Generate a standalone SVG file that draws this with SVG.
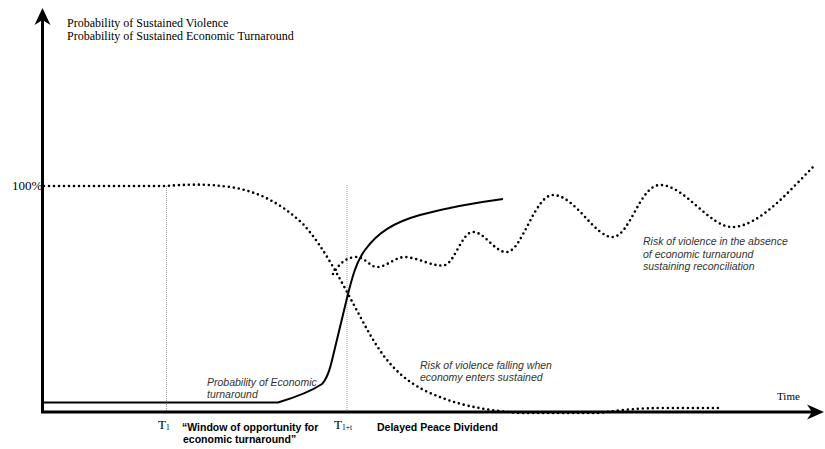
<svg xmlns="http://www.w3.org/2000/svg" width="825" height="449" viewBox="0 0 825 449">
  <style>
    .serif { font-family: "Liberation Serif", "Times New Roman", serif; fill: #000; }
    .lbl { font-family: "Liberation Sans", Arial, sans-serif; font-style: italic; font-size: 10.5px; fill: #333; }
    .bold { font-family: "Liberation Sans", Arial, sans-serif; font-weight: bold; font-size: 10.5px; fill: #000; }
    .dots { fill: none; stroke: #000; stroke-width: 2.6; stroke-linecap: round; stroke-dasharray: 0 5; }
    .solid { fill: none; stroke: #000; stroke-width: 2; stroke-linejoin: round; }
    .guide { fill: none; stroke: #999; stroke-width: 1; stroke-dasharray: 1 1; }
    .axis { fill: none; stroke: #000; stroke-width: 3; }
  </style>
  <rect width="825" height="449" fill="#fff"/>

  <g id="guides">
    <line class="guide" x1="166.5" y1="186" x2="166.5" y2="411"/>
    <line class="guide" x1="347" y1="185" x2="347" y2="411"/>
  </g>

  <g id="curves">
    <path id="violence-falling" class="dots" d="M44,186 L166,186 C185,184.5 205,183.5 230,187 C258,191 282,204 303,224 C325,248 343,285 362,320 C378,350 394,377 430,393 C455,404 480,410 520,413 L600,413 C620,410 640,408 665,408 L722,408"/>
    <path id="violence-absence" class="dots" d="M333,274 C338,266 344,258 355,257 C365,256 370,268 378,267 C388,266 395,257 405,257 C420,258 435,268 445,265 C455,262 462,232 473,232 C485,232 495,253 507,252 C522,251 535,195 553,195 C575,195 595,238 613,237 C630,236 640,185 660,185 C685,185 710,228 733,227 C760,226 790,190 815,165"/>
    <path id="economic" class="solid" d="M42,402.5 L278,402.5 C293,398 310,392 322,384 C328,378 331,365 334,352 L347,298 C352,278 356,262 365,250 C378,232 395,222 420,215 C450,207 480,202 503,199"/>
  </g>

  <g id="axes">
    <line class="axis" x1="42.5" y1="413" x2="42.5" y2="18"/>
    <line class="axis" x1="41" y1="412" x2="814" y2="412"/>
    <path d="M42.5,8 L50.5,25 L42.5,20 L34.5,25 Z" fill="#000"/>
    <path d="M824,412 L807,404.5 L812,412 L807,419.5 Z" fill="#000"/>
  </g>

  <g id="labels">
    <text class="serif" x="67" y="27" font-size="12">Probability of Sustained Violence</text>
    <text class="serif" x="67" y="40" font-size="12">Probability of Sustained Economic Turnaround</text>
    <text class="serif" x="12" y="190" font-size="13">100%</text>
    <text class="serif" x="777" y="400" font-size="11">Time</text>
    <text class="serif" x="158" y="429" font-size="13">T<tspan font-size="7.5" dy="1">1</tspan></text>
    <text class="serif" x="334" y="429" font-size="13">T<tspan font-size="7.5" dy="1">1+t</tspan></text>
    <text class="bold" x="182" y="431">“Window of opportunity for</text>
    <text class="bold" x="183" y="443">economic turnaround”</text>
    <text class="bold" x="377" y="431">Delayed Peace Dividend</text>
    <text class="lbl" x="207" y="385.5">Probability of Economic</text>
    <text class="lbl" x="207" y="397.5">turnaround</text>
    <text class="lbl" x="420" y="369">Risk of violence falling when</text>
    <text class="lbl" x="420" y="381">economy enters sustained</text>
    <text class="lbl" x="643" y="245">Risk of violence in the absence</text>
    <text class="lbl" x="643" y="257.5">of economic turnaround</text>
    <text class="lbl" x="643" y="270">sustaining reconciliation</text>
  </g>
</svg>
